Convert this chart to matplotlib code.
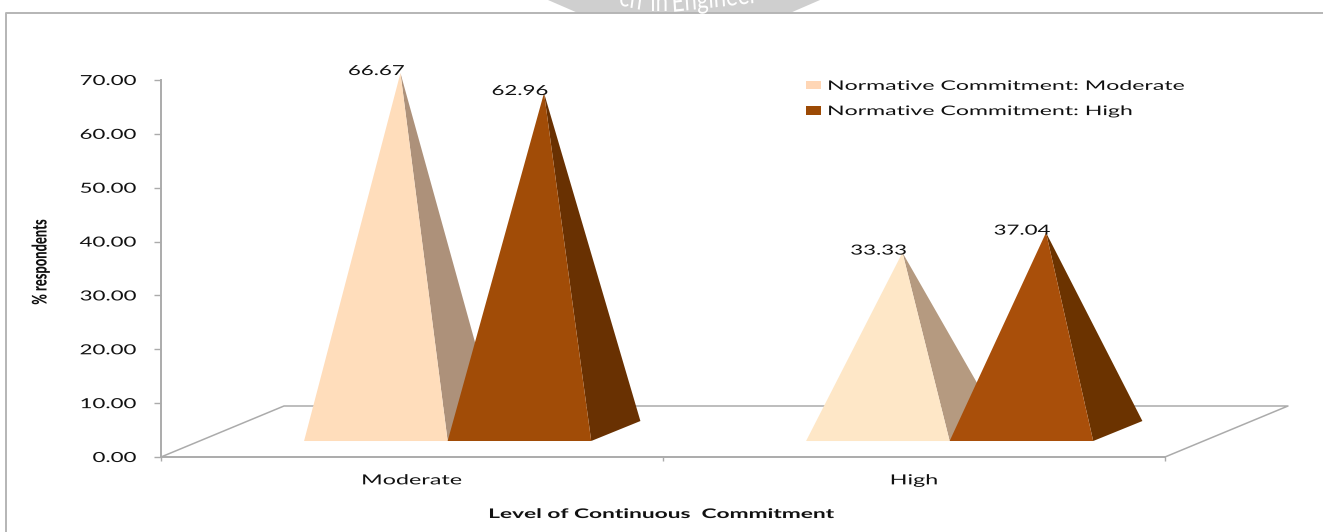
import matplotlib
matplotlib.use("Agg")
import matplotlib.pyplot as plt
from matplotlib.patches import Polygon, Rectangle
from matplotlib.patheffects import AbstractPathEffect
from matplotlib.transforms import Affine2D

W, H = 1323, 532

categories = ["Moderate", "High"]
series_names = ["Normative Commitment: Moderate", "Normative Commitment: High"]
moderate_values = [66.67, 33.33]
high_values = [62.96, 37.04]
y_ticks = [0, 10, 20, 30, 40, 50, 60, 70]

# front and side colours of each pyramid, per category
moderate_front = ["#FFDDBB", "#FEE7C7"]
moderate_side = ["#AD917A", "#B59A80"]
high_front = ["#A14C07", "#A94F0A"]
high_side = ["#693102", "#6B3300"]
legend_colors = ["#FFD6B5", "#9C4A05"]

GRID = "#ABABAB"
TEXT = "#111111"
FONT = "Lato"


class Stretch(AbstractPathEffect):
    """Scale drawn text about an anchor given as a fraction of its extent."""

    def __init__(self, sx=1.0, sy=1.0, ax=0.5, ay=0.5):
        super().__init__()
        self.sx, self.sy, self.ax, self.ay = sx, sy, ax, ay

    def draw_path(self, renderer, gc, tpath, affine, rgbFace=None):
        box = tpath.get_extents(affine)
        x0 = box.x0 + self.ax * box.width
        y0 = box.y0 + self.ay * box.height
        scale = Affine2D().translate(-x0, -y0).scale(self.sx, self.sy).translate(x0, y0)
        renderer.draw_path(gc, tpath, affine + scale, rgbFace)


fig = plt.figure(figsize=(W / 100, H / 100), dpi=100)
fig.patch.set_facecolor("white")

# page furniture: panel border and the seal cut off at the top edge
page = fig.add_axes([0, 0, 1, 1])
page.set_xlim(0, W)
page.set_ylim(H, 0)
page.axis("off")
page.add_patch(Polygon([(548, 0), (578, 13), (790, 13), (820, 0)], fc="#CFCFCF", ec="none"))
for word, x, y, angle in [("ch", 618, 5, -10), ("in", 650, 11, 0), ("Engineer", 672, 12, 5)]:
    seal_text = page.text(x, y, word, color="white", fontsize=20, ha="left", va="baseline",
                          family=FONT, rotation=angle, rotation_mode="anchor")
    seal_text.set_path_effects([Stretch(sx=0.8, ax=0.0)])
page.plot([6, 6, W], [H, 13, 13], color="#B5B5B5", lw=1.4)

# plot area: x runs over the two categories, y over percent
ax = fig.add_axes([161 / W, 1 - 457 / H, (1165 - 161) / W, (457 - 80) / H])
ax.set_xlim(0, 2)
ax.set_ylim(0, 70)
ax.patch.set_alpha(0)
for side in ["top", "right"]:
    ax.spines[side].set_visible(False)
for side in ["left", "bottom"]:
    ax.spines[side].set_color(GRID)
    ax.spines[side].set_linewidth(1.4)

# floor of the 3D box
floor_dx = 0.245
floor_dy = 9.47
ax.plot([0, floor_dx, 2 + floor_dx, 2], [0, floor_dy, floor_dy, 0], color=GRID, lw=1.1,
        clip_on=False, zorder=1)

half_width = 0.143
depth_dx = 0.098
depth_dy = 3.71
front_shift = 0.071
front_y = 2.97
# height of the pyramid's zero level above the front of the base
apex_base = 1.655


def draw_pyramid(left, value, front_color, side_color, zorder):
    # the apex stands over the middle of the square base
    right = left + 2 * half_width
    apex = (left + half_width + depth_dx / 2, front_y + apex_base + value)
    ax.add_patch(Polygon([(right, front_y), (right + depth_dx, front_y + depth_dy), apex],
                         fc=side_color, ec="none", zorder=zorder, clip_on=False))
    ax.add_patch(Polygon([(left, front_y), (right, front_y), apex],
                         fc=front_color, ec="none", zorder=zorder + 0.5, clip_on=False))
    return apex


for i in range(len(categories)):
    center = i + 0.5 + front_shift
    apex_a = draw_pyramid(center - 2 * half_width, moderate_values[i],
                          moderate_front[i], moderate_side[i], 2)
    apex_b = draw_pyramid(center, high_values[i], high_front[i], high_side[i], 3)
    for apex, value in [(apex_a, moderate_values[i]), (apex_b, high_values[i])]:
        label = ax.annotate(f"{value:.2f}", apex, xytext=(-24, -2), textcoords="offset pixels",
                            ha="center", va="baseline", fontsize=10, color=TEXT, family=FONT,
                            annotation_clip=False, zorder=6)
        label.set_path_effects([Stretch(sx=1.6)])

ax.set_yticks(y_ticks)
ax.set_yticklabels([f"{t:.2f}" for t in y_ticks], fontsize=10, color=TEXT, family=FONT)
ax.set_xticks([0, 1, 2])
ax.set_xticklabels([])
ax.set_xticks([0.5, 1.5], minor=True)
ax.set_xticklabels(categories, minor=True, fontsize=10, color=TEXT, family=FONT)
ax.tick_params(axis="x", which="major", length=3, width=1, color=GRID)
ax.tick_params(axis="x", which="minor", length=0, pad=12.5)
ax.tick_params(axis="y", length=5, width=1, color=GRID, pad=13)
for tick_label in ax.get_yticklabels():
    tick_label.set_path_effects([Stretch(sx=1.6, ax=1.0)])
for tick_label in ax.get_xticklabels(minor=True):
    tick_label.set_path_effects([Stretch(sx=1.68)])

# axis titles
y_title = fig.text(40 / W, 1 - 262 / H, "% respondents", rotation=90, ha="center", va="center",
                   fontsize=14.5, fontweight="black", color=TEXT, family=FONT)
y_title.set_path_effects([Stretch(sy=0.64)])
x_title = fig.text(662 / W, 1 - 514 / H, "Level of Continuous  Commitment", ha="center", va="center",
                   fontsize=9.5, fontweight="bold", color=TEXT, family=FONT)
x_title.set_path_effects([Stretch(sx=1.72)])

# legend
handles = [Rectangle((0, 0), 1, 1, fc=c, ec="none") for c in legend_colors]
legend = fig.legend(handles, series_names, loc="upper left", bbox_to_anchor=(794 / W, 1 - 68 / H),
                    frameon=False, labelcolor=TEXT, handlelength=1.14, handleheight=0.6,
                    handletextpad=0.53, labelspacing=1.0, prop={"family": FONT, "size": 9.5})
for legend_text in legend.get_texts():
    legend_text.set_path_effects([Stretch(sx=1.75, ax=0.0)])

fig.savefig("out.png", dpi=100)
